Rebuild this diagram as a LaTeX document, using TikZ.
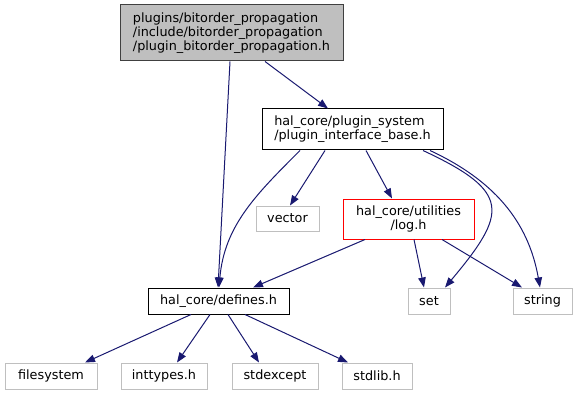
\documentclass[tikz,border=0pt]{standalone}
\usepackage{fontspec}
\setmainfont{DejaVu Sans}
\usetikzlibrary{arrows.meta}
\definecolor{dedge}{HTML}{191970}
\definecolor{dgrey}{HTML}{BFBFBF}
\definecolor{dframe}{HTML}{404040}

\begin{document}
\begin{tikzpicture}[
  x=1pt, y=1pt,
  file/.style={
    draw=black,
    fill=white,
    line width=1pt,
    inner sep=0pt,
    align=left,
    font=\fontsize{12.8}{14.2}\selectfont
  },
  root/.style={file, draw=dframe, fill=dgrey},
  extern/.style={file, draw=dgrey, minimum height=26pt},
  partial/.style={file, draw=red, align=center},
  dep/.style={-{Triangle[length=10pt,width=7.5pt]}, draw=dedge, line width=1pt}
]
\useasboundingbox (0,0) rectangle (577,-395);

\node[root, minimum width=223pt, minimum height=56pt] (plugin) at (231.5,-33) {
  plugins/bitorder\_propagation\\/include/bitorder\_propagation\\/plugin\_bitorder\_propagation.h
};
\node[file, minimum width=181pt, minimum height=41pt] (iface) at (352.5,-129.5) {
  hal\_core/plugin\_system\\/plugin\_interface\_base.h
};
\node[extern, minimum width=63pt, minimum height=25pt] (vector) at (287.5,-218.5) {vector};
\node[partial, minimum width=131pt, minimum height=40pt] (log) at (408.5,-219) {
  hal\_core/utilities\\/log.h
};
\node[file, minimum width=141pt, minimum height=26pt] (defines) at (218.5,-301) {hal\_core/defines.h};
\node[extern, minimum width=42pt] (set) at (429,-301) {set};
\node[extern, minimum width=59pt] (string) at (542.5,-301) {string};
\node[extern, minimum width=92pt] (filesystem) at (51,-376) {filesystem};
\node[extern, minimum width=86pt] (inttypes) at (164,-376) {inttypes.h};
\node[extern, minimum width=86pt] (stdexcept) at (275,-376) {stdexcept};
\node[extern, minimum width=70pt] (stdlib) at (377,-376) {stdlib.h};

\draw[dep] ([xshift=-1.5pt]plugin.south) -- ([xshift=-0.5pt]defines.north);
\draw[dep] ([xshift=33.5pt]plugin.south) -- ([xshift=-24.5pt]iface.north);

\draw[dep] ([xshift=-52.5pt]iface.south) to[out=-135, in=85] ([xshift=0.5pt]defines.north);
\draw[dep] ([xshift=-27.5pt]iface.south) -- ([xshift=2.5pt]vector.north);
\draw[dep] ([xshift=13.5pt]iface.south) -- ([xshift=-16.5pt]log.north);
\draw[dep] ([xshift=70.5pt]iface.south) to[out=-25, in=50, looseness=1.8] ([xshift=16pt]set.north);
\draw[dep] ([xshift=77.5pt]iface.south) to[out=-25, in=100] ([xshift=-2.5pt]string.north);

\draw[dep] ([xshift=-43.5pt]log.south) -- ([xshift=34.5pt]defines.north);
\draw[dep] ([xshift=5.5pt]log.south) -- ([xshift=-5pt]set.north);
\draw[dep] ([xshift=33.5pt]log.south) -- ([xshift=-20.5pt]string.north);

\draw[dep] ([xshift=-27.5pt]defines.south) -- ([xshift=34pt]filesystem.north);
\draw[dep] ([xshift=-8.5pt]defines.south) -- ([xshift=13pt]inttypes.north);
\draw[dep] ([xshift=9.5pt]defines.south) -- ([xshift=-16pt]stdexcept.north);
\draw[dep] ([xshift=26.5pt]defines.south) -- ([xshift=-29pt]stdlib.north);

\end{tikzpicture}
\end{document}
